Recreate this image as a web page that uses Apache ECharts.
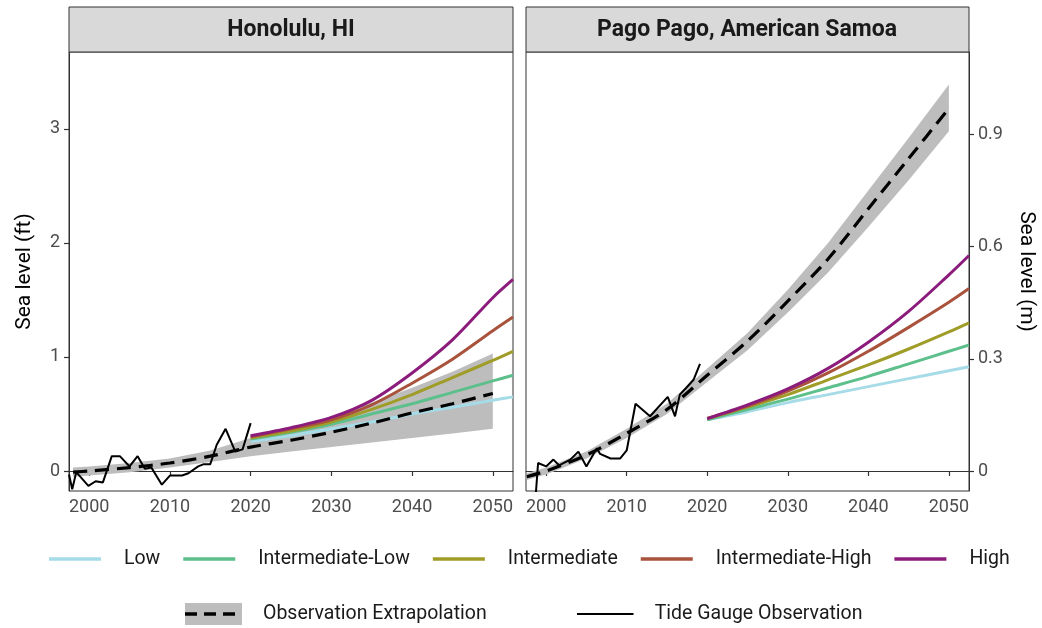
<!DOCTYPE html>
<html><head><meta charset="utf-8">
<script src="https://cdn.jsdelivr.net/npm/echarts@6/dist/echarts.min.js"></script>
<style>html,body{margin:0;padding:0;background:#fff}#c{width:1042px;height:628px}</style>
</head><body><div id="c"></div>
<script>
// ---------- data ----------
const panelTitles = ['Honolulu, HI', 'Pago Pago, American Samoa'];
const scenarioNames = ['Low', 'Intermediate-Low', 'Intermediate', 'Intermediate-High', 'High'];
const scenarioColors = ['#a6dbe8', '#5dbf8b', '#a09c28', '#a9523c', '#8b1c7c'];
const xTicks = [2000, 2010, 2020, 2030, 2040, 2050];
const ftTicks = [0, 1, 2, 3];
const mTicks = [0, 0.3, 0.6, 0.9];

// scenario projections (ft)
const scenYears = [2020, 2025, 2030, 2035, 2040, 2045, 2050, 2052.5];
const hnlLow     = [0.26, 0.31, 0.37, 0.43, 0.50, 0.56, 0.62, 0.65];
const hnlIntLow  = [0.28, 0.34, 0.41, 0.50, 0.59, 0.69, 0.79, 0.84];
const hnlInt     = [0.29, 0.35, 0.43, 0.54, 0.67, 0.82, 0.97, 1.05];
const hnlIntHigh = [0.30, 0.37, 0.45, 0.58, 0.77, 0.98, 1.23, 1.35];
const hnlHigh    = [0.31, 0.38, 0.47, 0.62, 0.86, 1.15, 1.52, 1.68];

const ppgLow     = [0.45, 0.52, 0.60, 0.67, 0.74, 0.81, 0.88, 0.915];
const ppgIntLow  = [0.45, 0.54, 0.63, 0.73, 0.83, 0.94, 1.05, 1.105];
const ppgInt     = [0.46, 0.56, 0.67, 0.80, 0.93, 1.07, 1.22, 1.30];
const ppgIntHigh = [0.46, 0.57, 0.70, 0.86, 1.05, 1.26, 1.48, 1.60];
const ppgHigh    = [0.46, 0.58, 0.72, 0.90, 1.13, 1.40, 1.72, 1.89];

// observation extrapolation (ft) with uncertainty band
const hnlExtYears = [1998, 2000, 2005, 2010, 2015, 2020, 2025, 2030, 2035, 2040, 2045, 2050];
const hnlExt      = [-0.01, 0.00, 0.03, 0.07, 0.13, 0.21, 0.27, 0.34, 0.42, 0.51, 0.59, 0.68];
const hnlExtLo    = [-0.05, -0.04, -0.01, 0.03, 0.08, 0.13, 0.17, 0.21, 0.25, 0.29, 0.33, 0.37];
const hnlExtHi    = [0.03, 0.04, 0.07, 0.11, 0.18, 0.29, 0.38, 0.48, 0.60, 0.73, 0.87, 1.03];

const ppgExtYears = [1997.6, 2000, 2005, 2010, 2015, 2020, 2025, 2030, 2035, 2040, 2045, 2050];
const ppgExt      = [-0.05, 0.00, 0.14, 0.33, 0.54, 0.84, 1.14, 1.49, 1.86, 2.30, 2.74, 3.18];
const ppgExtLo    = [-0.08, -0.03, 0.11, 0.29, 0.50, 0.78, 1.06, 1.39, 1.74, 2.14, 2.55, 2.98];
const ppgExtHi    = [-0.02, 0.03, 0.17, 0.37, 0.59, 0.90, 1.21, 1.59, 2.00, 2.46, 2.92, 3.39];

// tide gauge observations (ft)
const hnlObsYears = [1997.5, 1997.9, 1998.4, 1999.9, 2000.8, 2001.7, 2002.8, 2003.8, 2005.0, 2006.0, 2006.9, 2007.7, 2009.0, 2010.0, 2011.5, 2012.3, 2013.5, 2014.2, 2015.0, 2015.8, 2016.9, 2018.1, 2019.0, 2020.0];
const hnlObs      = [-0.03, -0.16, -0.01, -0.13, -0.09, -0.10, 0.13, 0.13, 0.04, 0.13, 0.02, 0.03, -0.12, -0.04, -0.04, -0.02, 0.04, 0.06, 0.06, 0.23, 0.37, 0.17, 0.19, 0.42];
const ppgObsYears = [1998.7, 1999.0, 2000.0, 2000.9, 2001.6, 2003.0, 2004.0, 2005.0, 2006.3, 2006.7, 2008.0, 2009.2, 2010.0, 2011.1, 2012.9, 2015.1, 2016.0, 2016.6, 2017.4, 2018.3, 2019.1];
const ppgObs      = [-0.22, 0.07, 0.04, 0.10, 0.05, 0.10, 0.17, 0.04, 0.20, 0.15, 0.11, 0.11, 0.18, 0.59, 0.48, 0.65, 0.48, 0.67, 0.73, 0.80, 0.94];

// ---------- layout / style ----------
const FT_MIN = -0.1754, FT_MAX = 3.675, FT_TO_M = 0.3048;
const X_MIN = 1997.5, X_MAX = 2052.5;
const FONT = 'Roboto';
const TICK_COLOR = '#333';
const LABEL_COLOR = '#4d4d4d';

const pairs = (xs, ys) => xs.map((x, i) => [x, ys[i]]);

function bandSeries(xi, yi, years, lo, hi) {
  return {
    type: 'custom', xAxisIndex: xi, yAxisIndex: yi, silent: true, z: 1, clip: true,
    data: years.map((y, i) => [y, lo[i], hi[i]]),
    encode: { x: 0, y: [1, 2] },
    renderItem: function (params, api) {
      if (params.dataIndex !== 0) return null;
      const pts = [];
      for (let i = 0; i < years.length; i++) pts.push(api.coord([years[i], hi[i]]));
      for (let i = years.length - 1; i >= 0; i--) pts.push(api.coord([years[i], lo[i]]));
      return { type: 'polygon', shape: { points: pts }, style: { fill: '#bdbdbd' } };
    }
  };
}
function lineSeries(name, xi, yi, data, color, width, type, z, smooth) {
  return {
    name: name, type: 'line', xAxisIndex: xi, yAxisIndex: yi, data: data,
    symbol: 'none', showSymbol: false, smooth: smooth || false, clip: true, silent: true, z: z,
    lineStyle: { color: color, width: width, type: type || 'solid' },
    itemStyle: { color: color }
  };
}

const panels = [
  { scen: [hnlLow, hnlIntLow, hnlInt, hnlIntHigh, hnlHigh], extY: hnlExtYears, ext: hnlExt, lo: hnlExtLo, hi: hnlExtHi, obsY: hnlObsYears, obs: hnlObs },
  { scen: [ppgLow, ppgIntLow, ppgInt, ppgIntHigh, ppgHigh], extY: ppgExtYears, ext: ppgExt, lo: ppgExtLo, hi: ppgExtHi, obsY: ppgObsYears, obs: ppgObs }
];

const series = [];
panels.forEach((p, k) => {
  const xi = k, yi = k;
  series.push(bandSeries(xi, yi, p.extY, p.lo, p.hi));
  p.scen.forEach((vals, j) => series.push(lineSeries(scenarioNames[j], xi, yi, pairs(scenYears, vals), scenarioColors[j], 3, 'solid', 3, 0.3)));
  series.push(lineSeries('Observation Extrapolation', xi, yi, pairs(p.extY, p.ext), '#000', 3.2, [14, 8], 4, 0.3));
  series.push(lineSeries('Tide Gauge Observation', xi, yi, pairs(p.obsY, p.obs), '#000', 2, 'solid', 5, false));
});

function xAxis(gi) {
  return {
    type: 'value', gridIndex: gi, min: X_MIN, max: X_MAX,
    axisLine: { show: true, lineStyle: { color: TICK_COLOR, width: 1 } },
    axisTick: { show: true, customValues: xTicks, length: 5, lineStyle: { color: TICK_COLOR, width: 1.2 } },
    axisLabel: { customValues: xTicks, formatter: v => String(v), color: LABEL_COLOR, fontSize: 18, fontFamily: FONT, margin: 7 },
    splitLine: { show: false }
  };
}

function svgIcon(inner) {
  const svg = "<svg xmlns='http://www.w3.org/2000/svg' width='57' height='22'>" + inner + "</svg>";
  return 'image://data:image/svg+xml;charset=utf-8,' + encodeURIComponent(svg);
}
const extIcon = svgIcon("<rect width='57' height='22' fill='#bdbdbd'/><line x1='0' y1='11' x2='57' y2='11' stroke='#000' stroke-width='3.5' stroke-dasharray='12 7'/>");
const gaugeIcon = svgIcon("<line x1='0' y1='11' x2='57' y2='11' stroke='#000' stroke-width='2'/>");

const LEGEND_TEXT = { fontSize: 19.5, color: '#1a1a1a', fontFamily: FONT };

const option = {
  backgroundColor: '#fff',
  animation: false,
  textStyle: { fontFamily: FONT },
  grid: [
    { left: 69, right: 529, top: 52, bottom: 137, show: true, borderColor: TICK_COLOR, borderWidth: 1, containLabel: false },
    { left: 526, right: 73, top: 52, bottom: 137, show: true, borderColor: TICK_COLOR, borderWidth: 1, containLabel: false }
  ],
  xAxis: [xAxis(0), xAxis(1)],
  yAxis: [
    {
      type: 'value', gridIndex: 0, min: FT_MIN, max: FT_MAX, position: 'left',
      name: 'Sea level (ft)', nameLocation: 'middle', nameRotate: 90, nameGap: 34,
      nameTextStyle: { fontSize: 21, color: '#000', fontFamily: FONT },
      axisLine: { show: true, lineStyle: { color: TICK_COLOR } },
      axisTick: { show: true, customValues: ftTicks, length: 5, lineStyle: { color: TICK_COLOR, width: 1.2 } },
      axisLabel: { customValues: ftTicks, color: LABEL_COLOR, fontSize: 18, fontFamily: FONT, margin: 9 },
      splitLine: { show: false }
    },
    { type: 'value', gridIndex: 1, min: FT_MIN, max: FT_MAX, show: false, splitLine: { show: false } },
    {
      type: 'value', gridIndex: 1, min: FT_MIN * FT_TO_M, max: FT_MAX * FT_TO_M, position: 'right',
      name: 'Sea level (m)', nameLocation: 'middle', nameRotate: -90, nameGap: 47,
      nameTextStyle: { fontSize: 21, color: '#000', fontFamily: FONT },
      axisLine: { show: true, lineStyle: { color: TICK_COLOR } },
      axisTick: { show: true, customValues: mTicks, length: 5, lineStyle: { color: TICK_COLOR, width: 1.2 } },
      axisLabel: { customValues: mTicks, color: LABEL_COLOR, fontSize: 18, fontFamily: FONT, margin: 9 },
      splitLine: { show: false }
    }
  ],
  legend: [
    {
      orient: 'horizontal', left: 44, top: 544, itemWidth: 52, itemHeight: 3.5, itemGap: 23,
      selectedMode: false,
      data: scenarioNames.map((n, j) => ({ name: n, icon: 'rect', itemStyle: { color: scenarioColors[j], borderWidth: 0 } })),
      textStyle: Object.assign({ padding: [0, 0, 0, 18] }, LEGEND_TEXT)
    },
    {
      orient: 'horizontal', left: 180, top: 598, itemWidth: 57, itemHeight: 22, itemGap: 90,
      selectedMode: false,
      data: [
        { name: 'Observation Extrapolation', icon: extIcon },
        { name: 'Tide Gauge Observation', icon: gaugeIcon }
      ],
      textStyle: Object.assign({ padding: [0, 0, 0, 16] }, LEGEND_TEXT)
    }
  ],
  graphic: [
    { type: 'rect', shape: { x: 69, y: 7, width: 444, height: 45 }, style: { fill: '#d9d9d9', stroke: TICK_COLOR, lineWidth: 1 }, z: 10 },
    { type: 'text', x: 291, y: 30, style: { text: panelTitles[0], fontSize: 23, fontWeight: 'bold', fontFamily: FONT, fill: '#1a1a1a', align: 'center', verticalAlign: 'middle' }, z: 11 },
    { type: 'rect', shape: { x: 526, y: 7, width: 443, height: 45 }, style: { fill: '#d9d9d9', stroke: TICK_COLOR, lineWidth: 1 }, z: 10 },
    { type: 'text', x: 747, y: 30, style: { text: panelTitles[1], fontSize: 23, fontWeight: 'bold', fontFamily: FONT, fill: '#1a1a1a', align: 'center', verticalAlign: 'middle' }, z: 11 }
  ],
  series: series
};

const chart = echarts.init(document.getElementById('c'), null, { renderer: 'canvas' });
chart.setOption(option);
</script>
</body></html>
